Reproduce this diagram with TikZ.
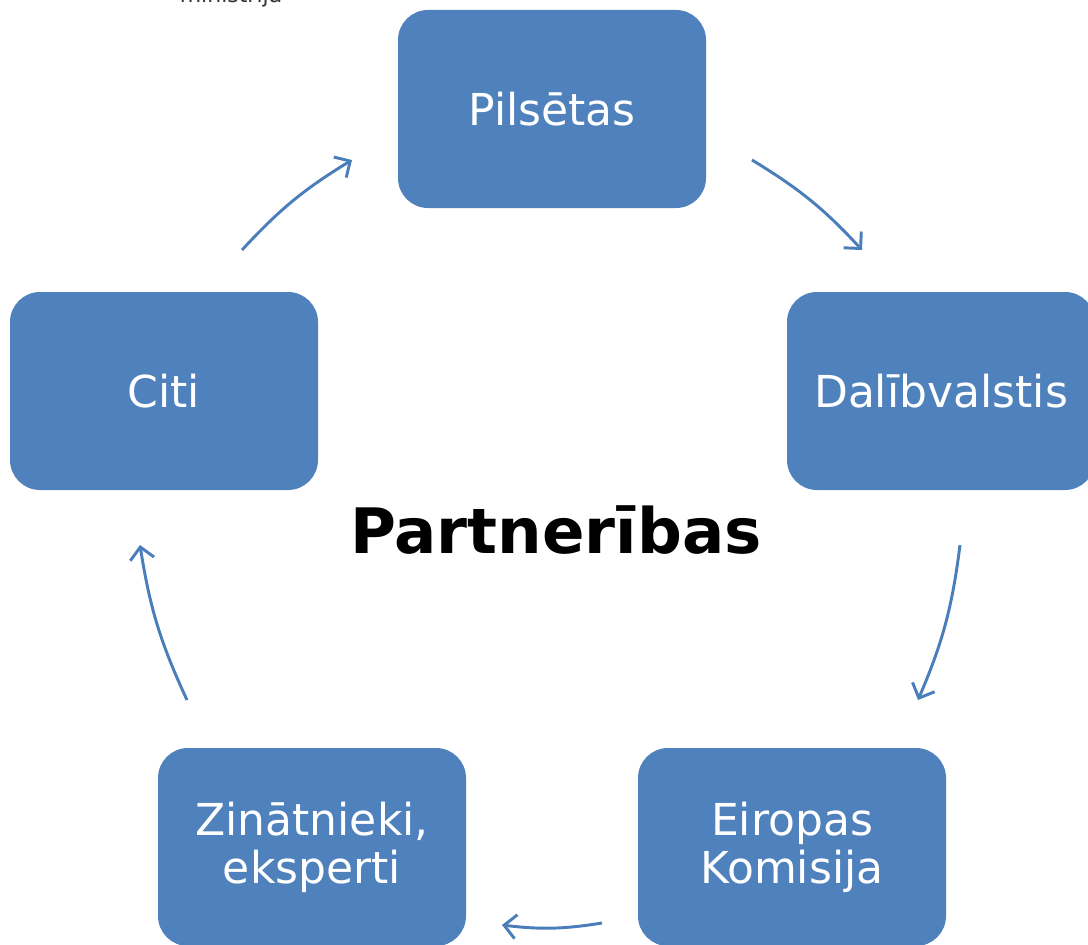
\documentclass[tikz,border=0pt]{standalone}
\usepackage{fontspec}
\setmainfont{DejaVu Sans}
\usetikzlibrary{arrows.meta}
\definecolor{boxblue}{RGB}{79,129,189}
\definecolor{arrowblue}{RGB}{74,126,187}
\tikzset{
  partnerbox/.style={draw=none, fill=boxblue, rounded corners=22.5pt, minimum width=231pt, minimum height=148.5pt, text=white, align=center, font=\fontsize{33}{36}\selectfont},
  cyclearrow/.style={draw=arrowblue, line width=2.2pt, -{Straight Barb[length=9pt,width=18pt,line width=2.2pt]}, bend right=8}
}
\begin{document}
\begin{tikzpicture}[x=0.75pt,y=0.75pt,yscale=-1,xscale=1]
\useasboundingbox (0,0) rectangle (1088,945);

%Text cut off at the top
\node [text=black!80, anchor=base, inner sep=0pt, font=\fontsize{16.5}{18}\selectfont] (logo) at (231,3) {ministrija};

%Rounded Rect
\node [partnerbox] (pilsetas) at (552,109) {Pilsētas};
%Rounded Rect
\node [partnerbox] (dalibvalstis) at (941,391) {Dalībvalstis};
%Rounded Rect
\node [partnerbox] (komisija) at (792,847) {Eiropas\\Komisija};
%Rounded Rect
\node [partnerbox] (zinatnieki) at (312,847) {Zinātnieki,\\eksperti};
%Rounded Rect
\node [partnerbox] (citi) at (164,391) {Citi};

%Center title
\node [font=\bfseries\fontsize{47}{50}\selectfont] (title) at (556,530) {Partnerības};

%Arrow ends
\coordinate (a1s) at (242,250);
\coordinate (a1e) at (352,160);
\coordinate (a2s) at (752,160);
\coordinate (a2e) at (862,250);
\coordinate (a3s) at (960,545);
\coordinate (a3e) at (918,700);
\coordinate (a4s) at (602,923);
\coordinate (a4e) at (502,925);
\coordinate (a5s) at (187,700);
\coordinate (a5e) at (140,545);

%Curved Arrows
\draw [cyclearrow] (a1s) to (a1e);
\draw [cyclearrow] (a2s) to (a2e);
\draw [cyclearrow] (a3s) to (a3e);
\draw [cyclearrow] (a4s) to (a4e);
\draw [cyclearrow] (a5s) to (a5e);

\end{tikzpicture}
\end{document}
